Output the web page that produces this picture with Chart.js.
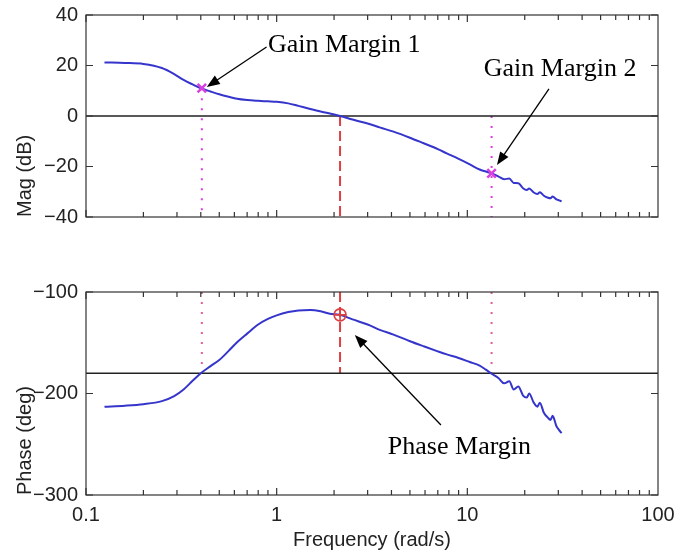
<!DOCTYPE html>
<html>
<head>
<meta charset="utf-8">
<script src="https://cdn.jsdelivr.net/npm/chart.js@4/dist/chart.umd.min.js"></script>
<style>
  html, body { margin: 0; padding: 0; background: #fff; }
  #wrap { position: relative; width: 675px; height: 552px; }
  .box { position: absolute; left: 0; width: 675px; }
</style>
</head>
<body>
<div id="wrap">
  <div class="box" style="top:0;height:240px"><canvas id="mag"></canvas></div>
  <div class="box" style="top:270px;height:282px"><canvas id="phase"></canvas></div>
</div>
<script>
// frequency response (rad/s, dB, deg)
const freq = [0.125, 0.16, 0.2, 0.25, 0.29, 0.325, 0.36, 0.4, 0.45, 0.5, 0.56, 0.62, 0.7, 0.8, 0.9,
  1.0, 1.15, 1.3, 1.5, 1.7, 1.9, 2.15, 2.5, 3.0, 3.5, 4.1, 5.0, 5.9, 7.0, 7.8, 9.0, 10.3, 11.6, 12.5,
  13.4, 14.6, 15.6, 16.6, 17.5, 18.5, 19.6, 20.5, 21.1, 22.3, 23.3, 24.0, 25.2, 26.5, 27.3, 28.0,
  29.3, 30.3, 31.2];
const magDb = [21.2, 21.0, 20.6, 19.0, 16.6, 14.3, 12.6, 11.0, 9.7, 8.6, 7.6, 6.8, 6.3, 6.0, 5.8,
  5.6, 5.0, 4.0, 2.8, 1.8, 1.0, 0.0, -1.4, -3.0, -4.6, -6.2, -8.6, -10.8, -13.1, -14.8, -17.0, -19.2, -21.2, -22.0,
  -22.7, -24.0, -25.0, -24.8, -26.5, -26.6, -28.6, -29.3, -28.7, -30.3, -30.9, -30.2, -31.6, -32.4, -32.6, -31.9,
  -33.0, -33.4, -33.8];
const phaseDeg = [-213, -212, -210.5, -207.5, -202.5, -196, -188, -180, -173, -167, -158, -149.5, -141, -132, -126.5,
  -123, -119.8, -118.2, -117.7, -119, -121.5, -122.5, -127, -132, -137.5, -142, -148.5, -153.5, -158.5, -161.5, -165, -169, -172.5, -176.5,
  -180.5, -185, -190, -188, -196, -193, -202, -204, -200, -209, -213, -209, -219, -224, -226, -222,
  -232, -236, -239];

// margins
const gm1 = { f: 0.405, mag: 11.0 };
const gm2 = { f: 13.4, mag: -22.7 };
const pm = { f: 2.15, phase: -122.5 };

const xTicks = [0.1, 1, 10, 100];
const magTicks = [-40, -20, 0, 20, 40];
const phaseTicks = [-300, -200, -100];

const BLUE = '#3535cc';
const MAGENTA = '#d840e0';
const PINK = '#e0609a';
const RED = '#dd4040';

Chart.defaults.font.family = '"Liberation Sans", Arial, Helvetica, sans-serif';
Chart.defaults.color = '#222';

const minus = v => String(v).replace('-', '\u2212');
const pts = (xs, ys) => xs.map((x, i) => ({ x, y: ys[i] }));

// box, inward ticks and text arrows, MATLAB style
const frameTicks = {
  id: 'frameTicks',
  afterDatasetsDraw(chart, args, opts) {
    const { ctx, chartArea: a, scales: { x, y } } = chart;
    ctx.save();
    ctx.strokeStyle = '#333';
    ctx.lineWidth = 1.2;
    ctx.strokeRect(a.left, a.top, a.right - a.left, a.bottom - a.top);
    ctx.beginPath();
    for (let d = 0.1; d < 99; d *= 10) {
      for (let m = 1; m < 10; m++) {
        const px = x.getPixelForValue(d * m);
        const len = m === 1 ? 7 : 5;
        ctx.moveTo(px, a.top); ctx.lineTo(px, a.top + len);
        ctx.moveTo(px, a.bottom); ctx.lineTo(px, a.bottom - len);
      }
    }
    (opts.yTicks || []).forEach(v => {
      const py = y.getPixelForValue(v);
      ctx.moveTo(a.left, py); ctx.lineTo(a.left + 7, py);
      ctx.moveTo(a.right, py); ctx.lineTo(a.right - 7, py);
    });
    ctx.stroke();

    ctx.fillStyle = '#000';
    ctx.strokeStyle = '#000';
    ctx.font = '26px "Liberation Serif", "Times New Roman", serif';
    ctx.textBaseline = 'alphabetic';
    (opts.notes || []).forEach(n => {
      ctx.fillText(n.text, x.getPixelForValue(n.at[0]), y.getPixelForValue(n.at[1]));
      const x0 = x.getPixelForValue(n.from[0]), y0 = y.getPixelForValue(n.from[1]);
      const x1 = x.getPixelForValue(n.to[0]), y1 = y.getPixelForValue(n.to[1]);
      const ang = Math.atan2(y1 - y0, x1 - x0);
      ctx.lineWidth = 1.3;
      ctx.beginPath();
      ctx.moveTo(x0, y0);
      ctx.lineTo(x1 - 8 * Math.cos(ang), y1 - 8 * Math.sin(ang));
      ctx.stroke();
      ctx.beginPath();
      ctx.moveTo(x1, y1);
      ctx.lineTo(x1 - 13 * Math.cos(ang) + 5 * Math.sin(ang), y1 - 13 * Math.sin(ang) - 5 * Math.cos(ang));
      ctx.lineTo(x1 - 13 * Math.cos(ang) - 5 * Math.sin(ang), y1 - 13 * Math.sin(ang) + 5 * Math.cos(ang));
      ctx.closePath();
      ctx.fill();
    });
    ctx.restore();
  }
};

const curve = (data) => ({
  data, borderColor: BLUE, borderWidth: 2, pointRadius: 0,
  cubicInterpolationMode: 'monotone', order: 1
});
const rule = (data, color, width, dash) => ({
  data, borderColor: color, borderWidth: width, borderDash: dash || [], pointRadius: 0, order: 3
});
const marker = (data, color, style, r, w) => ({
  data, showLine: false, pointStyle: style, pointRadius: r, borderColor: color,
  backgroundColor: 'rgba(0,0,0,0)', pointBorderWidth: w, order: 0
});

// labels at the box corners must not shrink the plot area
const noEdgePad = s => { s.paddingLeft = 0; s.paddingRight = 0; s.paddingTop = 0; s.paddingBottom = 0; };

function xScale(show) {
  return {
    type: 'logarithmic', min: 0.1, max: 100, display: show,
    afterBuildTicks: s => { s.ticks = xTicks.map(v => ({ value: v })); },
    afterFit: s => { if (show) s.height = 57; noEdgePad(s); },
    grid: { display: false, drawTicks: false },
    border: { display: false },
    ticks: { padding: 8, maxRotation: 0, autoSkip: false, font: { size: 20 }, callback: v => String(v) },
    title: { display: show, text: 'Frequency (rad/s)', font: { size: 20 }, padding: { top: 0, bottom: 0 } }
  };
}
function yScale(min, max, ticks, label) {
  return {
    min, max,
    afterBuildTicks: s => { s.ticks = ticks.map(v => ({ value: v })); },
    afterFit: s => { s.width = 86; noEdgePad(s); },
    grid: { display: false, drawTicks: false },
    border: { display: false },
    ticks: { padding: 8, font: { size: 20 }, callback: v => minus(v) },
    title: { display: true, text: label, align: 'start', font: { size: 20 }, padding: { top: 13, bottom: 0 } }
  };
}
const common = {
  animation: false, responsive: true, maintainAspectRatio: false, events: [],
};

new Chart(document.getElementById('mag'), {
  type: 'line',
  data: {
    datasets: [
      curve(pts(freq, magDb)),
      rule([{ x: 0.1, y: 0 }, { x: 100, y: 0 }], '#222', 1.5),
      rule([{ x: gm1.f, y: gm1.mag }, { x: gm1.f, y: -40 }], MAGENTA, 2, [2, 8]),
      rule([{ x: gm2.f, y: 0 }, { x: gm2.f, y: -40 }], MAGENTA, 2, [2, 8]),
      rule([{ x: pm.f, y: 0 }, { x: pm.f, y: -40 }], RED, 2, [10, 5]),
      marker([{ x: gm1.f, y: gm1.mag }, { x: gm2.f, y: gm2.mag }], MAGENTA, 'crossRot', 6, 2.5)
    ]
  },
  options: {
    ...common,
    layout: { padding: { left: 0, right: 17, top: 15, bottom: 23 } },
    scales: { x: xScale(false), y: yScale(-40, 40, magTicks, 'Mag (dB)') },
    plugins: {
      legend: { display: false }, tooltip: { enabled: false },
      frameTicks: {
        yTicks: magTicks,
        notes: [
          { text: 'Gain Margin 1', at: [0.9, 25.3], from: [0.885, 27.3], to: [0.43, 11.5] },
          { text: 'Gain Margin 2', at: [12.2, 15.8], from: [26.8, 10.7], to: [14.3, -19.4] }
        ]
      }
    }
  },
  plugins: [frameTicks]
});

new Chart(document.getElementById('phase'), {
  type: 'line',
  data: {
    datasets: [
      curve(pts(freq, phaseDeg)),
      rule([{ x: 0.1, y: -180 }, { x: 100, y: -180 }], '#222', 1.5),
      rule([{ x: gm1.f, y: -100 }, { x: gm1.f, y: -180 }], PINK, 2, [2, 8]),
      rule([{ x: gm2.f, y: -100 }, { x: gm2.f, y: -180 }], PINK, 2, [2, 8]),
      rule([{ x: pm.f, y: -100 }, { x: pm.f, y: -180 }], RED, 2, [10, 5]),
      marker([{ x: pm.f, y: pm.phase }], RED, 'circle', 6, 1.6),
      marker([{ x: pm.f, y: pm.phase }], RED, 'cross', 6, 1.6)
    ]
  },
  options: {
    ...common,
    layout: { padding: { left: 0, right: 17, top: 22, bottom: 0 } },
    scales: { x: xScale(true), y: yScale(-300, -100, phaseTicks, 'Phase (deg)') },
    plugins: {
      legend: { display: false }, tooltip: { enabled: false },
      frameTicks: {
        yTicks: phaseTicks,
        notes: [
          { text: 'Phase Margin', at: [3.83, -259.6], from: [7.27, -231], to: [2.57, -142.4] }
        ]
      }
    }
  },
  plugins: [frameTicks]
});
</script>
</body>
</html>
